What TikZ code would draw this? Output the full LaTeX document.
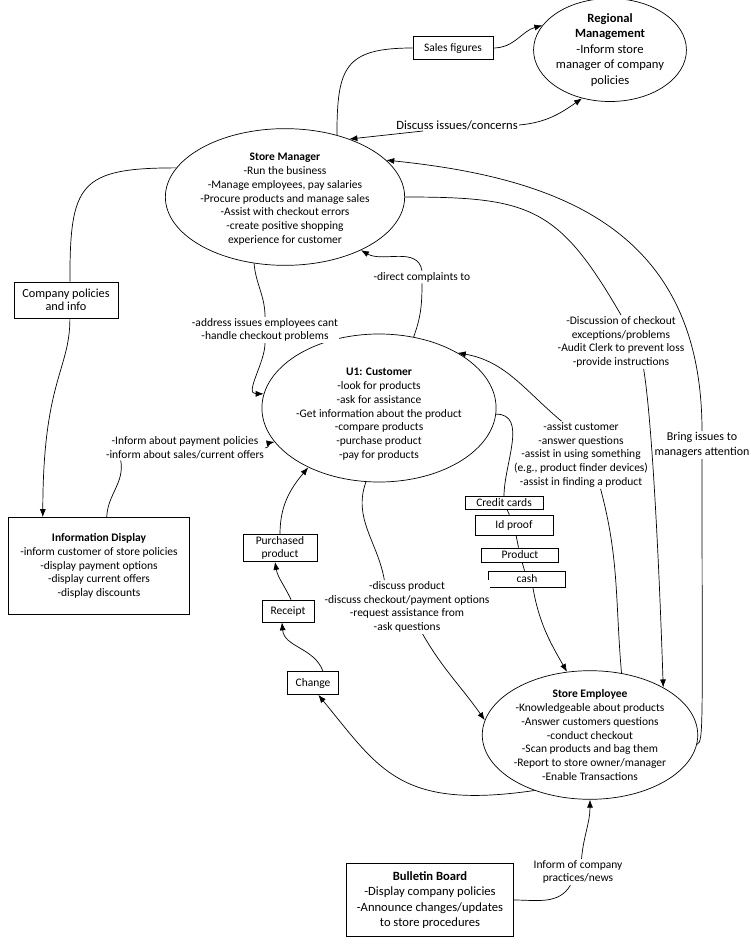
\documentclass[tikz,border=0pt]{standalone}
\usepackage{fontspec}
\setmainfont{Carlito}
\usetikzlibrary{arrows.meta}
\usetikzlibrary{shapes.geometric}
\newcommand{\txtfont}{\fontsize{11.5}{13.8}\selectfont}
\newcommand{\bigtxtfont}{\fontsize{12.6}{15.5}\selectfont}
\tikzset{arr/.style = {-{Latex[length=8pt, width=6pt]}}}
\tikzset{proc/.style = {draw, ellipse, fill=white, inner sep = 0, align=center, font=\txtfont}}
\tikzset{box/.style = {draw, rectangle, fill=white, inner sep = 0, align=center, font=\txtfont}}
\tikzset{lbl/.style = {fill=white, inner sep = 1, align=center, font=\txtfont}}

\begin{document}
\begin{tikzpicture}[x=1pt, y=1pt, line width=0.7pt]
      \useasboundingbox (0, 0) rectangle (750, -950);

      % actors
      \node [proc, minimum width=129, minimum height=95, font=\bigtxtfont] (rm) at (610, -50) {\textbf{Regional}\\\textbf{Management}\\-Inform store\\manager of company\\policies};
      \node [proc, minimum width=190, minimum height=110] (sm) at (285, -197) {\rule{0pt}{12pt}\textbf{Store Manager}\\-Run the business\\-Manage employees, pay salaries\\-Procure products and manage sales\\-Assist with checkout errors\\-create positive shopping\\experience for customer};
      \node [proc, minimum width=182, minimum height=111] (cust) at (379, -408) {\rule{0pt}{20pt}\textbf{U1: Customer}\\-look for products\\-ask for assistance\\-Get information about the product\\-compare products\\-purchase product\\-pay for products};
      \node [proc, minimum width=205, minimum height=124] (se) at (590, -735) {\textbf{Store Employee}\\-Knowledgeable about products\\-Answer customers questions\\-conduct checkout\\-Scan products and bag them\\-Report to store owner/manager\\-Enable Transactions};

      \node [box, minimum width=80, minimum height=23] (sales) at (453, -48) {Sales figures};
      \node [box, minimum width=104, minimum height=36, font=\fontsize{12.3}{13.5}\selectfont] (cpi) at (66, -300) {Company policies\\and info};
      \node [box, minimum width=181, minimum height=97] (info) at (99, -566) {\textbf{Information Display}\\-inform customer of store policies\\-display payment options\\-display current offers\\-display discounts};
      \node [box, minimum width=167, minimum height=73, font=\bigtxtfont] (bb) at (430, -900) {\textbf{Bulletin Board}\\-Display company policies\\-Announce changes/updates\\to store procedures};

      % exchanged items
      \node [box, minimum width=78, minimum height=13] (cc) at (504, -503) {Credit cards};
      \node [box, minimum width=78, minimum height=20] (idp) at (514, -525) {Id proof};
      \node [box, minimum width=77, minimum height=14] (prod) at (520, -555) {Product};
      \node [box, minimum width=77, minimum height=16] (cash) at (527, -579) {cash};
      \node [box, minimum width=74, minimum height=27] (pp) at (280, -548) {Purchased\\product};
      \node [box, minimum width=52, minimum height=22] (rcpt) at (288, -611) {Receipt};
      \node [box, minimum width=51, minimum height=23] (chg) at (313, -683) {Change};

      % labels
      \node [lbl, font=\bigtxtfont] (ldisc) at (457, -125) {Discuss issues/concerns};
      \node [lbl] (laddr) at (265, -330) {-address issues employees cant\\-handle checkout problems};
      \node [lbl] (ldir) at (422, -277) {-direct complaints to};
      \node [lbl] (linf) at (185, -448) {-Inform about payment policies\\-inform about sales/current offers};
      \node [lbl] (lchk) at (621, -342) {-Discussion of checkout\\exceptions/problems\\-Audit Clerk to prevent loss\\-provide instructions};
      \node [lbl, font=\fontsize{12}{15}\selectfont] (lbring) at (702, -445) {Bring issues to\\managers attention};
      \node [lbl] (lassist) at (581, -455) {-assist customer\\-answer questions\\-assist in using something\\(e.g., product finder devices)\\-assist in finding a product};
      \node [lbl] (lprod) at (407, -607) {-discuss product\\-discuss checkout/payment options\\-request assistance from\\-ask questions};
      \node [lbl] (lnews) at (578, -872) {Inform of company\\practices/news};

      % manager and regional management
      \draw (sm.50) to [out=90, in=180, looseness=1.5] (sales.west);
      \draw [arr] (sales.east) to [out=0, in=195] (rm.160);
      \draw [arr] (ldisc.190) -- (sm.42);
      \draw [arr] (ldisc.east) to [out=5, in=215] (rm.240);

      % company policies
      \draw (sm.165) to [out=180, in=90, looseness=1.6] (cpi.78);
      \draw [arr] (cpi.-78) .. controls (70, -370) and (43, -380) .. (info.139);
      \draw (info.81) to [out=88, in=-80] (linf.191);
      \draw [arr] (linf.east) to [out=10, in=190] (cust.198);

      % manager and customer
      \draw (sm.-115) to [out=-85, in=90] (laddr.north);
      \draw [arr] (laddr.south) to [out=-90, in=180] (cust.173);
      \draw (cust.64) to [out=70, in=-90] (ldir.south);
      \draw [arr] (ldir.north) to [out=100, in=-30] (sm.-35);

      % manager and employee
      \draw (sm.east) to [out=0, in=120, looseness=1.3] (lchk.north);
      \draw [arr] (lchk.-50) .. controls (652, -420) and (659, -560) .. (se.33);
      \draw (se.-5) .. controls (704, -742) and (702, -725) .. (lbring.south);
      \draw [arr] (lbring.north) .. controls (702, -230) and (560, -178) .. (sm.20);

      % employee and customer
      \draw (se.63) to [out=95, in=-75] (lassist.-60);
      \draw [arr] (lassist.120) to [out=140, in=-10] (cust.35);
      \draw (cust.-100) to [out=-110, in=100] (lprod.130);
      \draw [arr] (lprod.-60) to [out=-60, in=125] (se.172);

      % payment
      \draw (cust.-3) to [out=0, in=90] (cc.north);
      \draw (cc) -- (idp);
      \draw (idp) -- (prod);
      \draw (prod) -- (cash);
      \draw [arr] (cash.-55) to [out=-80, in=120] (se.110);

      % purchase
      \draw [arr] (se.225) .. controls (400, -810) and (380, -770) .. (chg.-66);
      \draw [arr] (chg.50) to [out=110, in=-85] (rcpt.-118);
      \draw [arr] (rcpt.75) to [out=115, in=-80] (pp.-110);
      \draw [arr] (pp.north) to [out=90, in=-130] (cust.-140);

      % bulletin board
      \draw (bb.east) to [out=0, in=-120] (lnews.-120);
      \draw [arr] (lnews.75) to [out=85, in=-90] (se.south);
\end{tikzpicture}
\end{document}
